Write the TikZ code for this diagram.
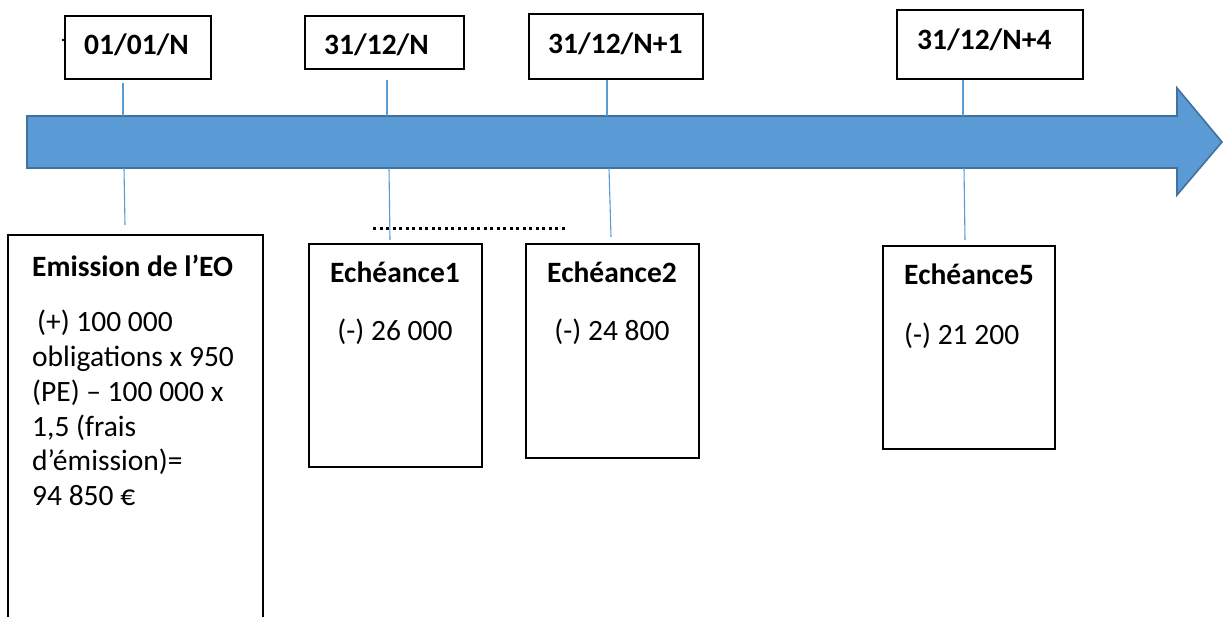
\documentclass[tikz,border=0pt]{standalone}
\usepackage{fontspec}
\setmainfont{Carlito}
\definecolor{arrowfill}{HTML}{5B9BD5}
\definecolor{arrowedge}{HTML}{41719C}
\definecolor{tickblue}{HTML}{5B9BD5}
\begin{document}
\begin{tikzpicture}[x=1pt,y=-1pt,
  box/.style={draw=black,line width=1.2pt,fill=white,inner sep=0pt},
  txt/.style={inner sep=0pt,font=\fontsize{29.5}{35}\selectfont},
  btxt/.style={inner sep=0pt,font=\fontsize{29.5}{35}\selectfont\bfseries},
  tickline/.style={draw=tickblue,line width=1.1pt},
  bigarrow/.style={fill=arrowfill,draw=arrowedge,line width=1.6pt,line join=miter}]
\useasboundingbox (0,0) rectangle (1224,617);
\clip (0,0) rectangle (1224,617);
\fill[white] (0,0) rectangle (1224,617);

% big arrow
\draw[bigarrow] (27,116) -- (1177,116) -- (1177,88) -- (1222,142) -- (1177,195) -- (1177,168) -- (27,168) -- cycle;

% date boxes
\node[box,minimum width=146pt,minimum height=63pt] (d1) at (138,47.5) {};
\node[box,minimum width=159pt,minimum height=53pt] (d2) at (384.5,42.5) {};
\node[box,minimum width=174pt,minimum height=65pt] (d3) at (616,46.5) {};
\node[box,minimum width=186pt,minimum height=69pt] (d4) at (990,44.5) {};
\node[btxt,anchor=base west] (d1t) at (84,55) {01/01/N};
\node[btxt,anchor=base west] (d2t) at (324,55) {31/12/N};
\node[btxt,anchor=base west] (d3t) at (548,54) {31/12/N+1};
\node[btxt,anchor=base west] (d4t) at (917,49.5) {31/12/N+4};
\fill (63,40) circle (1.3pt);

% lower boxes
\node[box,minimum width=255pt,minimum height=400pt] (em) at (135.5,435) {};
\node[box,minimum width=173pt,minimum height=223pt] (e1) at (395.5,355.5) {};
\node[box,minimum width=173pt,minimum height=214pt] (e2) at (612.5,351) {};
\node[box,minimum width=172pt,minimum height=203pt] (e5) at (969,347.5) {};

% texts in emission box
\node[btxt,anchor=base west] (emh) at (32,277) {Emission de l’EO};
\node[txt,anchor=base west] (em1) at (37,332) {(+) 100 000};
\node[txt,anchor=base west] (em2) at (32,366.7) {obligations x 950};
\node[txt,anchor=base west] (em3) at (32,401.4) {(PE) – 100 000 x};
\node[txt,anchor=base west] (em4) at (32,436.1) {1,5 (frais};
\node[txt,anchor=base west] (em5) at (32,470.8) {d’émission)=};
\node[txt,anchor=base west] (em6) at (32,505.5) {94 850 €};

% texts in echeance boxes
\node[btxt,anchor=base] (e1h) at (395,283) {Echéance1};
\node[txt,anchor=base] (e1v) at (395,341) {(-) 26 000};
\node[btxt,anchor=base] (e2h) at (612,283) {Echéance2};
\node[txt,anchor=base] (e2v) at (612,341) {(-) 24 800};
\node[btxt,anchor=base west] (e5h) at (904,285) {Echéance5};
\node[txt,anchor=base west] (e5v) at (904,345) {(-) 21 200};

% dotted row
\coordinate (dotA) at (373,229);
\coordinate (dotB) at (568,229);
\draw[line width=3pt,dash pattern=on 3pt off 3.5pt] (dotA) -- (dotB);

% tick lines
\coordinate (a1) at (123,116); \coordinate (b1) at (124,168); \coordinate (c1) at (125,225);
\coordinate (a2) at (387,116); \coordinate (b2) at (389,168); \coordinate (c2) at (390,240);
\coordinate (a3) at (607,116); \coordinate (b3) at (609,168); \coordinate (c3) at (611,237);
\coordinate (a4) at (963,116); \coordinate (b4) at (964,168); \coordinate (c4) at (965,240);
\draw[tickline] (123,83) -- (a1);
\draw[tickline] ([yshift=-10pt]d2.south -| a2) -- (a2);
\draw[tickline] (d3.south -| a3) -- (a3);
\draw[tickline] (d4.south -| a4) -- (a4);
\draw[tickline] (b1) -- (c1);
\draw[tickline] (b2) -- (c2);
\draw[tickline] (b3) -- (c3);
\draw[tickline] (b4) -- (c4);
\end{tikzpicture}
\end{document}
